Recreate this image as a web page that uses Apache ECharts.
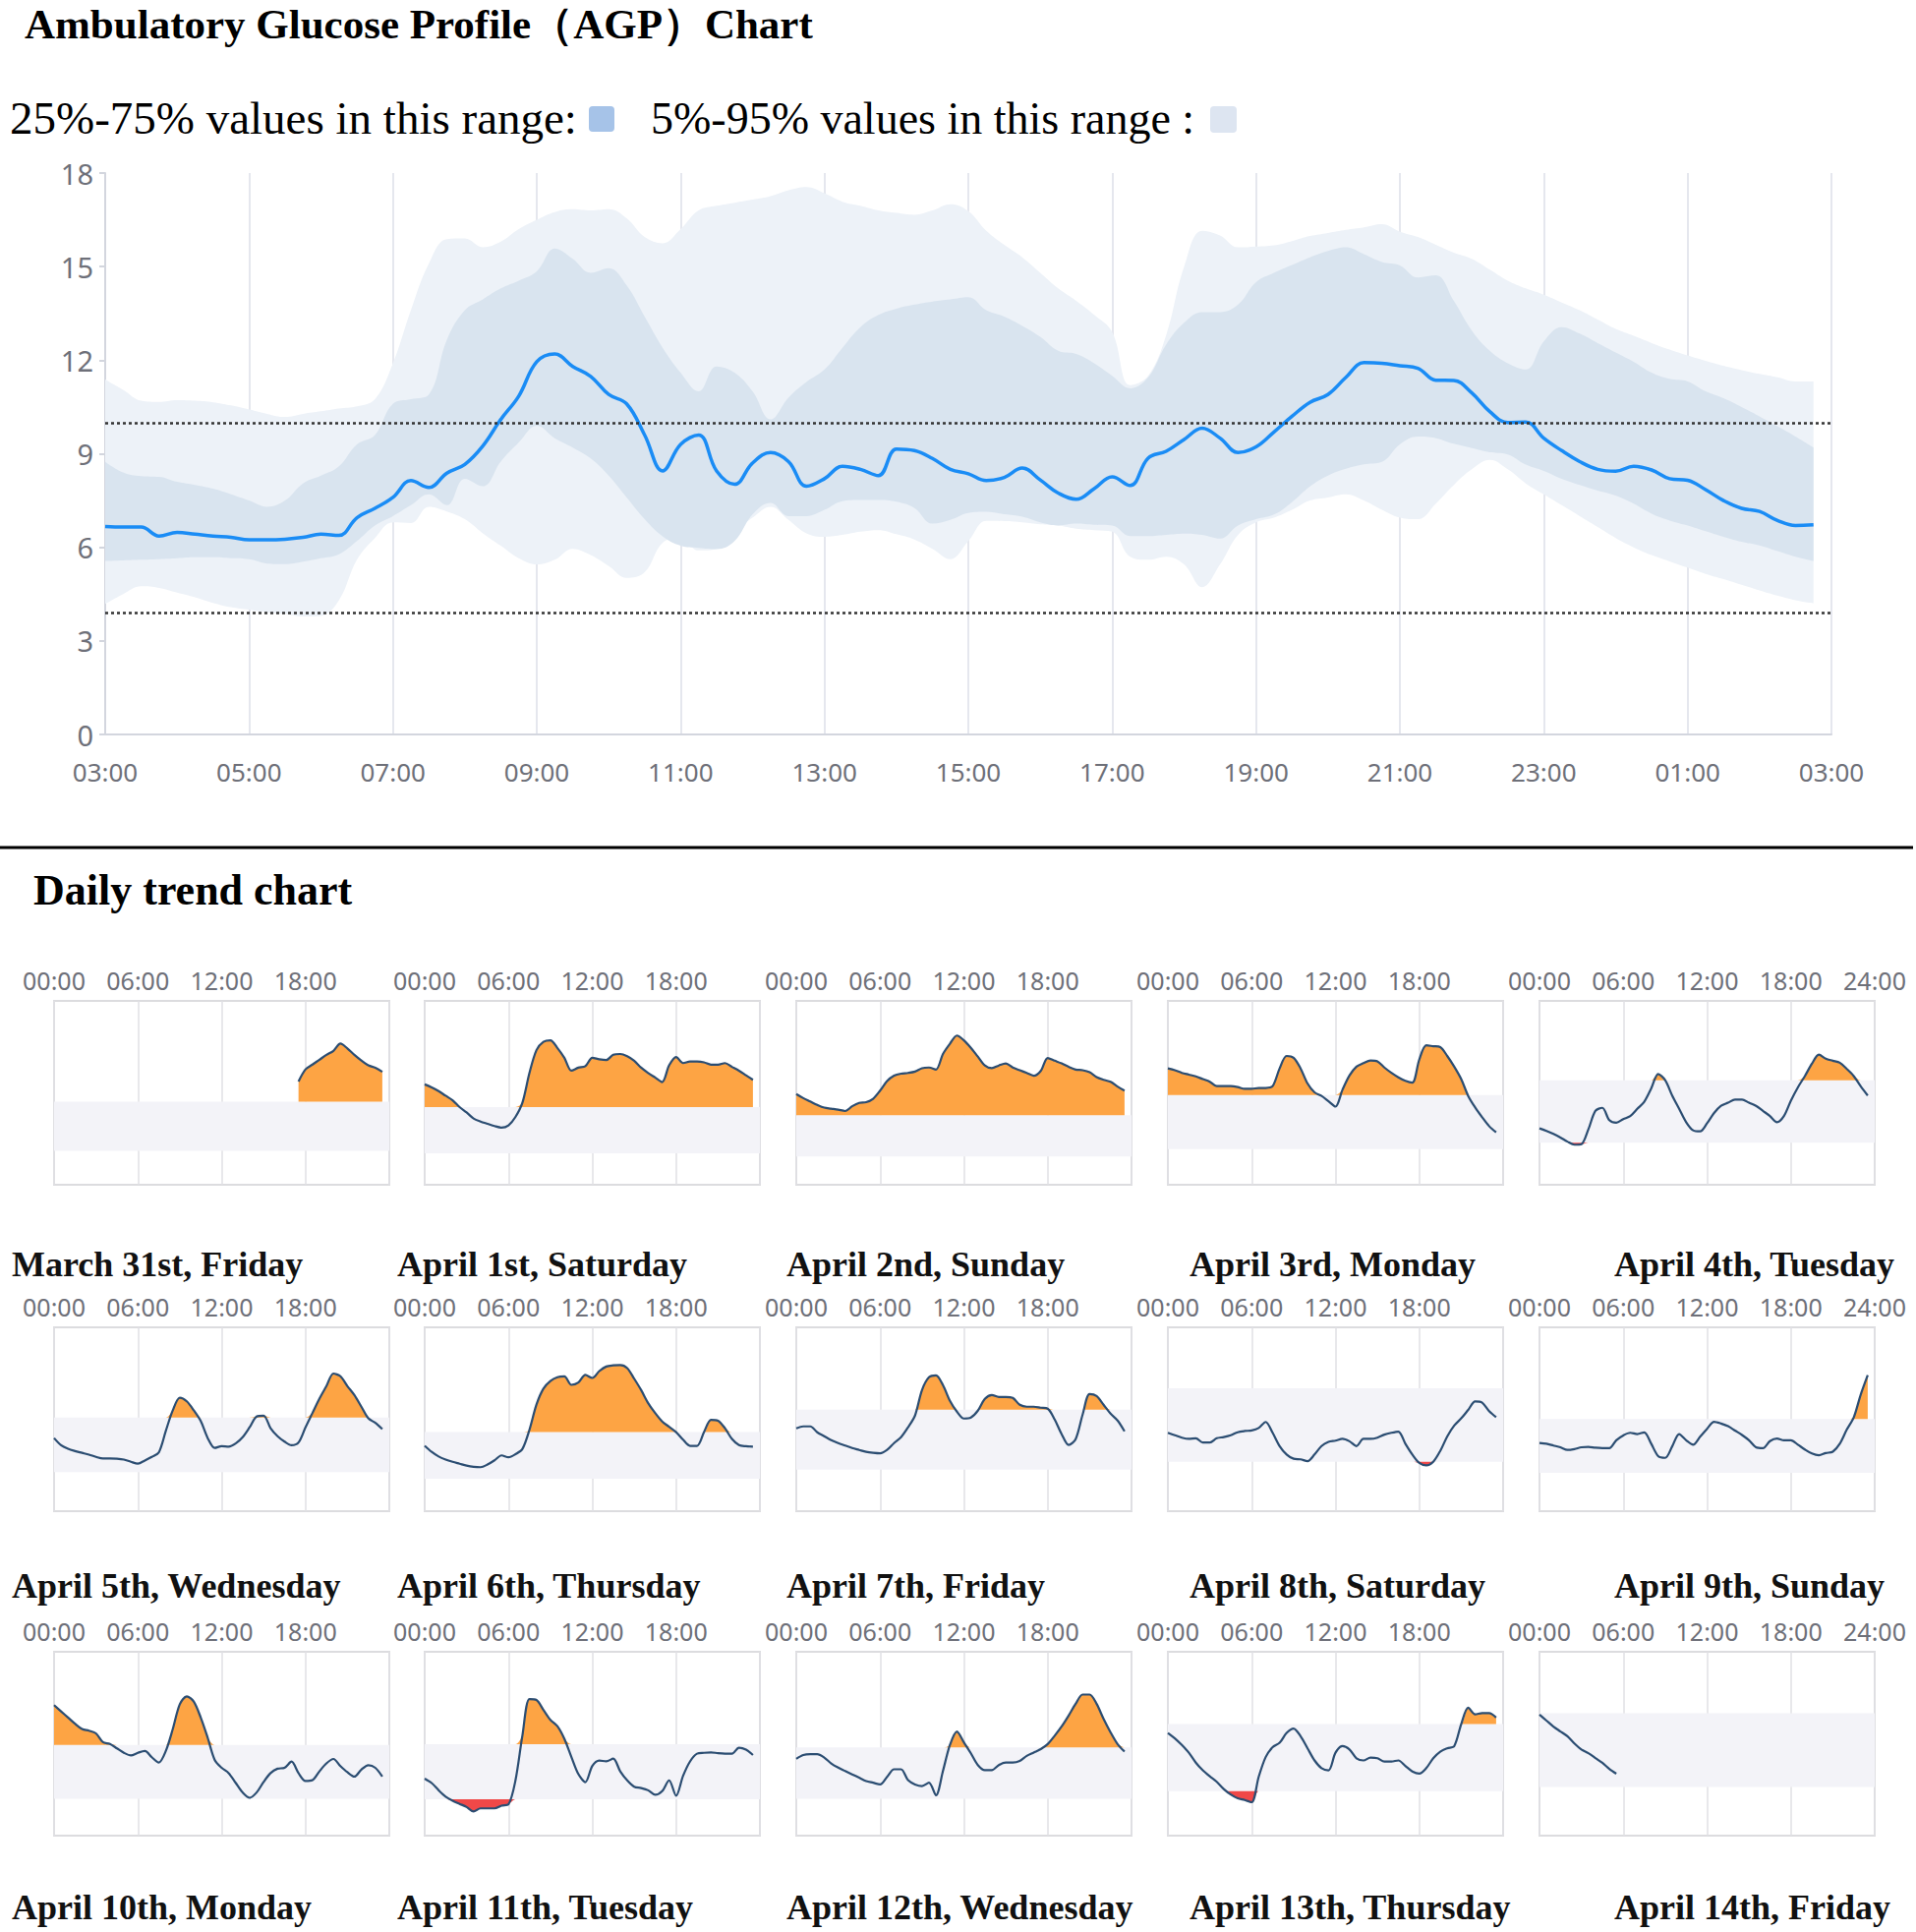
<!DOCTYPE html>
<html>
<head>
<meta charset="utf-8">
<script src="https://cdn.jsdelivr.net/npm/echarts@6/dist/echarts.min.js"></script>
<style>
html,body{margin:0;padding:0;background:#fff;}
#c{width:1949px;height:1965px;}
</style>
</head>
<body>
<div id="c"></div>
<script>
// ---------------- AGP (top chart) data: 15-minute samples starting 03:00 ----------------
const agpTickLabels = ['03:00','05:00','07:00','09:00','11:00','13:00','15:00','17:00','19:00','21:00','23:00','01:00','03:00'];
const targetHigh = 10;
const targetLow = 3.9;

const agpMedian = [
  6.67, 6.65, 6.65, 6.36,   6.48, 6.42, 6.36, 6.32,   6.24, 6.24, 6.26, 6.32,
  6.42, 6.38, 6.95, 7.25,   7.6, 8.14, 7.92, 8.38,    8.66, 9.25, 10.1, 10.85,
  11.95, 12.2, 11.8, 11.48, 10.9, 10.6, 9.6, 8.45,    9.3, 9.6, 8.45, 8.02,
  8.7, 9.04, 8.75, 7.96,    8.2, 8.6, 8.5, 8.3,       9.15, 9.1, 8.85, 8.5,
  8.36, 8.14, 8.24, 8.54,   8.16, 7.74, 7.54, 7.88,   8.26, 7.98, 8.86, 9.08,
  9.46, 9.82, 9.5, 9.04,    9.22, 9.7, 10.2, 10.65,   10.9, 11.45, 11.92, 11.9,
  11.82, 11.74, 11.36, 11.35, 10.95, 10.35, 10.0, 10.02, 9.5, 9.1, 8.75, 8.5,
  8.44, 8.6, 8.48, 8.2,     8.15, 7.85, 7.5, 7.25,    7.15, 6.86, 6.7, 6.72
];
const agpP75 = [
  8.74, 8.4, 8.28, 8.26,    8.1, 8.0, 7.88, 7.7,      7.5, 7.3, 7.5, 8.05,
  8.3, 8.6, 9.3, 9.6,       10.6, 10.75, 10.9, 12.65, 13.6, 13.95, 14.3, 14.55,
  14.85, 15.58, 15.25, 14.8, 14.95, 14.4, 13.4, 12.4, 11.6, 11.0, 11.8, 11.6,
  11.0, 10.1, 10.8, 11.3,   11.7, 12.4, 13.06, 13.45, 13.65, 13.78, 13.88, 13.95,
  14.02, 13.6, 13.4, 13.1,  12.75, 12.3, 12.2, 11.9,  11.5, 11.1, 11.45, 12.5,
  13.2, 13.54, 13.54, 13.78, 14.5, 14.8, 15.05, 15.3, 15.5, 15.62, 15.4, 15.15,
  15.04, 14.65, 14.72, 13.9, 12.95, 12.3, 11.9, 11.7, 12.6, 13.06, 12.85, 12.55,
  12.25, 11.95, 11.6, 11.4, 11.32, 11.0, 10.78, 10.5, 10.2, 9.88, 9.55, 9.2
];
const agpP25 = [
  5.56, 5.58, 5.6, 5.62,    5.65, 5.68, 5.68, 5.65,   5.62, 5.48, 5.46, 5.54,
  5.65, 5.78, 6.2, 6.7,     7.0, 7.35, 7.7, 7.35,     8.2, 7.96, 8.75, 9.36,
  9.9, 9.5, 9.2, 8.85,      8.3, 7.6, 6.9, 6.35,      6.05, 5.98, 5.94, 6.2,
  7.05, 7.42, 7.0, 7.0,     7.2, 7.48, 7.52, 7.52,    7.46, 7.26, 6.76, 6.88,
  7.1, 7.14, 7.06, 6.98,    6.8, 6.7, 6.76, 6.72,     6.7, 6.36, 6.36, 6.4,
  6.44, 6.4, 6.28, 6.7,     6.9, 7.05, 7.45, 7.95,    8.3, 8.52, 8.66, 8.74,
  9.3, 9.55, 9.5, 9.32,     9.18, 9.05, 8.98, 8.65,   8.45, 8.2, 8.0, 7.82,
  7.66, 7.4, 7.08, 6.86,    6.7, 6.52, 6.34, 6.18,    6.06, 5.88, 5.7, 5.56
];
const agpP95 = [
  11.38, 11.05, 10.7, 10.66, 10.72, 10.7, 10.65, 10.55, 10.42, 10.28, 10.18, 10.28,
  10.36, 10.45, 10.52, 10.75, 11.9, 13.6, 15.1, 15.88,  15.9, 15.62, 15.8, 16.2,
  16.5, 16.75, 16.84, 16.8,  16.84, 16.55, 15.95, 15.75, 16.2, 16.8, 16.95, 17.05,
  17.15, 17.26, 17.45, 17.55, 17.35, 17.08, 16.95, 16.8, 16.72, 16.66, 16.8, 17.0,
  16.78, 16.15, 15.7, 15.3,  14.8, 14.3, 13.9, 13.45,  12.9, 11.2, 11.5, 12.8,
  15.0, 16.15, 16.0, 15.62,  15.64, 15.68, 15.82, 15.98, 16.08, 16.18, 16.26, 16.36,
  16.12, 15.95, 15.7, 15.45, 15.25, 14.9, 14.55, 14.3,  14.1, 13.85, 13.6, 13.3,
  13.0, 12.78, 12.55, 12.34, 12.15, 11.98, 11.82, 11.68, 11.56, 11.45, 11.32, 11.32
];
const agpP5 = [
  4.18, 4.5, 4.75, 4.7,     4.55, 4.4, 4.22, 4.08,    4.0, 3.92, 3.86, 3.78,
  3.8, 4.3, 5.6, 6.3,       6.8, 6.78, 7.3, 7.15,     6.9, 6.45, 6.05, 5.65,
  5.45, 5.6, 5.95, 5.75,    5.4, 5.02, 5.2, 6.15,     6.3, 5.9, 5.95, 6.5,
  6.95, 7.3, 6.88, 6.45,    6.34, 6.4, 6.5, 6.55,     6.42, 6.25, 5.95, 5.62,
  6.2, 6.85, 6.84, 6.8,     6.74, 6.7, 6.6, 6.55,     6.5, 5.7, 5.6, 5.7,
  5.45, 4.72, 5.45, 6.4,    6.8, 6.95, 7.2, 7.5,      7.6, 7.7, 7.5, 7.2,
  6.95, 6.9, 7.4, 8.0,      8.5, 8.8, 8.5, 8.05,      7.7, 7.35, 7.0, 6.65,
  6.3, 6.0, 5.75, 5.55,     5.35, 5.15, 4.98, 4.8,    4.62, 4.45, 4.3, 4.2
];

// ---------------- Daily trend data: 30-minute samples from 00:00 (mmol/L) ----------------
const dailyTickLabels = ['00:00','06:00','12:00','18:00','24:00'];
const dayNames = [
  'March 31st, Friday','April 1st, Saturday','April 2nd, Sunday','April 3rd, Monday','April 4th, Tuesday',
  'April 5th, Wednesday','April 6th, Thursday','April 7th, Friday','April 8th, Saturday','April 9th, Sunday',
  'April 10th, Monday','April 11th, Tuesday','April 12th, Wednesday','April 13th, Thursday','April 14th, Friday'
];
const n = null;
const dayMar31 = [n,n,n,n,n,n,n,n,n,n,n,n,n,n,n,n,n,n,n,n,n,n,n,n,n,n,n,n,n,n,n,n,n,n,n,
  12.5, 14.0, 14.6, 15.2, 15.8, 16.3, 17.2, 16.6, 15.8, 15.1, 14.5, 14.2, 13.7];
const dayApr01 = [13.0,12.6,12.1,11.5,10.9,10.0,9.3,8.5,8.1,7.8,7.5,7.3,7.6,8.7,10.6,14.5,17.5,18.6,18.8,17.8,16.5,14.8,15.2,15.4,
  16.5,16.3,16.2,16.9,17.0,16.7,16.1,15.2,14.5,13.9,13.3,15.5,16.6,15.8,16.0,16.0,15.9,15.6,15.6,15.8,15.3,14.8,14.2,13.6];
const dayApr02 = [13.1,12.5,12.0,11.5,11.1,10.95,10.8,10.6,11.3,11.8,11.9,12.4,13.6,15.0,15.8,16.1,16.2,16.4,16.9,17.0,16.7,19.0,20.5,21.7,
  21.0,19.9,18.6,17.3,16.9,17.3,17.6,17.0,16.6,16.2,15.8,16.5,18.4,18.0,17.6,17.1,16.7,16.6,16.3,15.6,15.2,14.9,14.2,13.6];
const dayApr03 = [13.0,12.8,12.5,12.3,12.1,11.8,11.5,11.0,11.0,11.0,10.9,10.7,10.7,10.8,10.8,11.0,13.0,14.4,14.2,13.0,11.3,10.3,9.9,9.3,
  8.7,10.6,12.2,13.2,13.6,13.9,13.8,13.1,12.5,12.0,11.6,11.4,14.0,15.6,15.5,15.4,14.4,13.2,11.8,9.9,8.6,7.5,6.5,5.8];
const dayApr04 = [5.3,5.05,4.75,4.4,4.0,3.7,3.75,5.2,7.0,7.3,6.1,5.85,6.2,6.5,7.2,7.9,9.2,10.6,10.0,8.5,7.2,5.9,5.1,5.0,
  5.8,6.8,7.5,7.8,8.1,8.1,7.8,7.5,7.0,6.5,5.9,6.5,8.0,9.3,10.4,11.6,12.5,12.1,11.9,11.7,11.1,10.4,9.4,8.5];
const dayApr05 = [7.7,6.9,6.5,6.25,6.05,5.85,5.6,5.42,5.42,5.4,5.3,5.05,4.85,5.2,5.6,6.1,8.5,10.8,12.2,11.8,10.8,9.6,7.7,6.6,
  6.8,6.75,7.1,7.8,8.9,10.1,10.2,8.8,7.9,7.3,6.9,7.2,8.9,10.5,12.1,13.5,14.9,14.6,13.5,12.5,11.2,9.9,9.4,8.7];
const dayApr06 = [8.2,7.4,6.8,6.4,6.1,5.85,5.6,5.45,5.4,5.75,6.3,6.95,6.7,7.1,7.8,10.3,13.6,15.7,16.7,17.2,17.3,16.2,16.5,17.5,
  17.1,18.0,18.6,18.75,18.8,18.4,17.0,15.5,13.8,12.5,11.4,10.7,10.0,9.0,8.2,8.2,10.0,11.6,11.5,10.5,9.1,8.3,8.15,8.1];
const dayApr07 = [8.1,8.3,8.3,7.7,7.3,6.9,6.6,6.35,6.1,5.9,5.7,5.6,5.55,5.9,6.6,7.2,8.2,9.4,12.0,13.3,13.5,12.5,10.9,9.8,
  9.1,9.2,9.9,11.1,11.5,11.3,11.3,11.2,10.5,10.3,10.3,10.2,10.1,9.0,7.5,6.4,7.0,9.5,11.6,11.4,10.5,9.6,8.9,7.8];
const dayApr08 = [6.3,6.1,5.9,5.8,5.85,5.5,5.5,5.85,5.95,6.1,6.35,6.45,6.5,6.7,7.2,6.3,5.2,4.5,4.15,4.1,3.95,4.5,5.2,5.55,
  5.65,5.8,5.6,5.2,5.8,5.8,5.9,6.15,6.3,6.4,5.4,4.5,3.8,3.6,3.9,4.8,6.0,6.9,7.5,8.2,8.9,8.8,8.1,7.6];
const dayApr09 = [7.3,7.2,7.0,6.8,6.5,6.6,6.8,6.85,6.75,6.7,6.7,7.6,8.15,8.45,8.3,8.5,7.2,5.8,5.6,6.9,8.3,7.6,7.1,8.0,
  8.9,9.7,9.5,9.2,8.7,8.2,7.6,6.8,6.7,7.5,7.8,7.6,7.6,7.1,6.55,6.1,5.9,6.15,6.3,7.2,8.8,10.2,12.8,15.0];
const dayApr10 = [14.5,13.8,13.1,12.4,11.8,11.6,11.3,10.3,10.1,9.6,9.1,8.8,9.1,9.3,8.6,8.0,9.3,11.8,14.6,15.5,14.9,13.1,10.8,8.3,
  7.4,6.8,5.7,4.6,4.0,4.6,5.8,6.8,7.3,7.4,8.1,6.8,5.9,6.0,7.0,7.9,8.4,7.6,6.9,6.4,7.2,7.7,7.4,6.4];
const dayApr11 = [6.2,5.7,4.9,4.2,3.75,3.4,3.05,2.55,2.9,2.9,2.9,3.2,3.35,6.0,11.0,15.0,14.9,13.8,12.7,12.0,10.6,8.6,6.7,5.8,
  7.6,8.2,8.1,8.4,7.0,6.0,5.3,5.15,4.9,4.4,4.8,6.0,4.3,6.5,8.1,8.95,9.05,9.1,9.0,8.95,8.95,9.6,9.4,8.8];
const dayApr12 = [8.65,9.1,9.2,9.2,8.8,8.1,7.6,7.2,6.8,6.4,6.0,5.8,5.6,6.5,7.4,7.4,6.1,5.6,5.4,5.8,4.3,7.2,10.3,11.9,
  10.6,9.3,7.9,7.3,7.3,7.9,8.2,8.2,8.4,9.0,9.4,9.8,10.4,11.4,12.5,13.8,15.2,16.3,16.3,15.2,13.4,11.8,10.4,9.5];
const dayApr13 = [9.2,8.7,8.1,7.4,6.5,5.8,5.25,4.75,4.1,3.6,3.25,3.1,2.9,5.2,7.0,7.9,8.3,9.2,9.6,8.9,7.8,6.7,6.0,5.8,
  7.4,8.0,7.7,6.9,6.7,6.95,6.9,6.6,6.6,6.7,6.2,5.7,5.5,6.0,6.9,7.5,7.8,8.0,10.0,11.5,10.9,11.0,11.0,10.6];
const dayApr14 = [9.9,9.4,8.9,8.5,8.1,7.5,7.0,6.7,6.3,5.9,5.4,5.0,
  n,n,n,n,n,n,n,n,n,n,n,n,n,n,n,n,n,n,n,n,n,n,n,n,n,n,n,n,n,n,n,n,n,n,n,n];
const dailyValues = [dayMar31, dayApr01, dayApr02, dayApr03, dayApr04, dayApr05, dayApr06, dayApr07,
  dayApr08, dayApr09, dayApr10, dayApr11, dayApr12, dayApr13, dayApr14];

// ---------------- Layout (pixels / axis ranges) ----------------
const serif = "'Liberation Serif','Times New Roman',serif";
const sans = "'Noto Sans','Open Sans',sans-serif";
const colLeft = [55, 432, 810, 1188, 1566];
const rowTop = [1018, 1350, 1680];
const panelW = 341, panelH = 187;
const labelLeft = [12, 404, 800, 1210, 1642];
const labelY = [1286, 1613, 1940];
const panelYMin = [-0.32,-0.24,-0.25,-0.1,-0.21, -0.46,-0.37,-0.34,-0.2,-0.46, -0.29,-0.12,-0.5,-0.14,-0.13];
const panelYMax = [22.5,24.0,26.8,20.6,17.74, 20.06,23.74,18.39,15.05,20.43, 20.55,20.23,21.39,16.58,15.1];

const pad = v => (v < 10 ? '0' : '') + v;
// category slots: 15-minute steps across 24 h from 03:00 (97 slots, last = 03:00 next day)
const agpSlots = [];
for (let i = 0; i <= 96; i++) {
  const m = 180 + i * 15;
  agpSlots.push(pad(Math.floor(m / 60) % 24) + ':' + pad(m % 60));
}
// category slots: 30-minute steps 00:00..24:00 (49 slots)
const daySlots = [];
for (let i = 0; i <= 48; i++) daySlots.push(pad(Math.floor(i / 2)) + ':' + (i % 2 ? '30' : '00'));

const option = {
  animation: false,
  backgroundColor: '#fff',
  textStyle: { fontFamily: sans },
  grid: [], xAxis: [], yAxis: [], series: [], graphic: []
};

// ---- top AGP chart ----
option.grid.push({ left: 107, top: 176, width: 1756, height: 571 });
option.xAxis.push({
  type: 'category', gridIndex: 0, data: agpSlots, boundaryGap: false,
  axisLine: { show: true, lineStyle: { color: '#d3d6de', width: 2 } },
  axisTick: { show: false },
  splitLine: { show: true, interval: 7, lineStyle: { color: '#dcdfe8', width: 1.5 } },
  axisLabel: { color: '#6e7079', fontSize: 26, lineHeight: 26, fontFamily: sans, margin: 25, interval: 7,
    formatter: (v, i) => agpTickLabels[Math.round(i / 8)] }
});
option.yAxis.push({
  type: 'value', gridIndex: 0, min: 0, max: 18, interval: 3,
  axisLine: { show: true, lineStyle: { color: '#d3d6de', width: 2 } },
  axisTick: { show: true, length: 6, lineStyle: { color: '#d3d6de', width: 2 } },
  splitLine: { show: false },
  axisLabel: { color: '#6e7079', fontSize: 29, lineHeight: 29, fontFamily: sans, margin: 12 }
});
const hidden = { opacity: 0, width: 0 };
option.series.push(
  { type: 'line', xAxisIndex: 0, yAxisIndex: 0, data: agpP5, stack: 'outer', smooth: 0.4,
    symbol: 'none', lineStyle: hidden, silent: true, z: 1 },
  { type: 'line', xAxisIndex: 0, yAxisIndex: 0, data: agpP95.map((v, i) => +(v - agpP5[i]).toFixed(2)), stack: 'outer',
    smooth: 0.4, symbol: 'none', lineStyle: hidden, areaStyle: { color: '#edf2f8', opacity: 1 }, silent: true, z: 1 },
  { type: 'line', xAxisIndex: 0, yAxisIndex: 0, data: agpP25, stack: 'inner', smooth: 0.4,
    symbol: 'none', lineStyle: hidden, silent: true, z: 2 },
  { type: 'line', xAxisIndex: 0, yAxisIndex: 0, data: agpP75.map((v, i) => +(v - agpP25[i]).toFixed(2)), stack: 'inner',
    smooth: 0.4, symbol: 'none', lineStyle: hidden, areaStyle: { color: '#d9e4ef', opacity: 1 }, silent: true, z: 2 },
  { type: 'line', xAxisIndex: 0, yAxisIndex: 0, data: agpMedian, smooth: 0.4, symbol: 'none',
    lineStyle: { color: '#1a8cf5', width: 3.5 }, z: 4,
    markLine: { silent: true, symbol: 'none', label: { show: false },
      lineStyle: { color: '#333', type: [3, 3], width: 2.5 },
      data: [{ yAxis: targetHigh }, { yAxis: targetLow }] } }
);

// ---- daily panels ----
dailyValues.forEach((vals, k) => {
  const r = Math.floor(k / 5), c = k % 5, gi = k + 1;
  option.grid.push({ left: colLeft[c], top: rowTop[r], width: panelW, height: panelH,
    show: true, borderColor: '#dcdcdf', borderWidth: 2, backgroundColor: 'transparent' });
  option.xAxis.push({
    type: 'category', gridIndex: gi, data: daySlots, boundaryGap: false, position: 'top',
    axisLine: { show: false }, axisTick: { show: false },
    splitLine: { show: true, interval: 11, lineStyle: { color: '#e1e1e5', width: 1.5 } },
    axisLabel: { color: '#6e7079', fontSize: 25, fontFamily: sans, margin: 9, interval: 11,
      formatter: (v, i) => (i === 48 && c < 4) ? '' : dailyTickLabels[Math.round(i / 12)] }
  });
  option.yAxis.push({ type: 'value', gridIndex: gi, min: panelYMin[k], max: panelYMax[k], show: false });
  const mapVals = f => vals.map(v => (v == null ? null : +f(v).toFixed(3)));
  const common = { type: 'line', xAxisIndex: gi, yAxisIndex: gi, symbol: 'none', silent: true };
  option.series.push(
    Object.assign({}, common, { data: mapVals(() => targetHigh), stack: 'hi' + k, lineStyle: hidden, z: 1,
      markArea: { silent: true, itemStyle: { color: '#f3f3f8' }, label: { show: false },
        data: [[{ yAxis: targetLow }, { yAxis: targetHigh }]] } }),
    Object.assign({}, common, { data: mapVals(v => Math.max(v, targetHigh) - targetHigh), stack: 'hi' + k,
      smooth: 0.3, lineStyle: hidden, areaStyle: { color: '#fda444', opacity: 1 }, z: 2 }),
    Object.assign({}, common, { data: mapVals(v => Math.min(v, targetLow)), stack: 'lo' + k, smooth: 0.3,
      lineStyle: hidden, z: 1 }),
    Object.assign({}, common, { data: mapVals(v => targetLow - Math.min(v, targetLow)), stack: 'lo' + k,
      smooth: 0.3, lineStyle: hidden, areaStyle: { color: '#f04848', opacity: 1 }, z: 2 }),
    Object.assign({}, common, { data: vals, smooth: 0.3,
      lineStyle: { color: '#2b4d72', width: 2.2 }, z: 3 })
  );
  option.graphic.push({ type: 'text', x: labelLeft[c], y: labelY[r],
    style: { text: dayNames[k], font: 'bold 36px ' + serif, fill: '#111', verticalAlign: 'middle', align: 'left' } });
});

// ---- titles, legend, separator ----
option.graphic.push(
  { type: 'text', x: 25, y: 24, style: { text: 'Ambulatory Glucose Profile（AGP）Chart',
    font: 'bold 43px ' + serif, fill: '#000', verticalAlign: 'middle', align: 'left' } },
  { type: 'text', x: 10, y: 120, style: { text: '25%-75% values in this range:',
    font: '47px ' + serif, fill: '#000', verticalAlign: 'middle', align: 'left' } },
  { type: 'rect', shape: { x: 599, y: 108, width: 26, height: 26, r: 4 }, style: { fill: '#a6c3e8' } },
  { type: 'text', x: 662, y: 120, style: { text: '5%-95% values in this range :',
    font: '46px ' + serif, fill: '#000', verticalAlign: 'middle', align: 'left' } },
  { type: 'rect', shape: { x: 1231, y: 108, width: 27, height: 27, r: 4 }, style: { fill: '#dde5f1' } },
  { type: 'line', shape: { x1: 0, y1: 862, x2: 1946, y2: 862 }, style: { stroke: '#000', lineWidth: 3 } },
  { type: 'text', x: 34, y: 905, style: { text: 'Daily trend chart',
    font: 'bold 44px ' + serif, fill: '#000', verticalAlign: 'middle', align: 'left' } }
);

const chart = echarts.init(document.getElementById('c'), null, { renderer: 'svg', width: 1949, height: 1965 });
chart.setOption(option);
</script>
</body>
</html>
